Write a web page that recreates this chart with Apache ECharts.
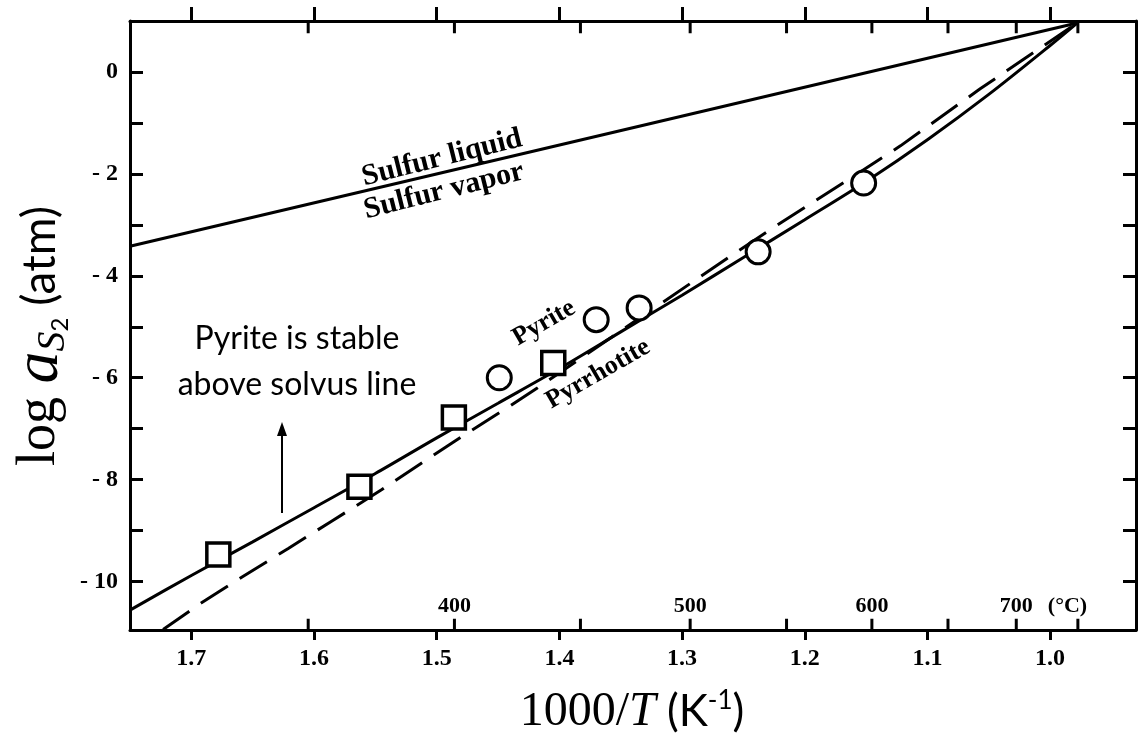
<!DOCTYPE html>
<html><head><meta charset="utf-8">
<script src="https://cdn.jsdelivr.net/npm/echarts@6/dist/echarts.min.js"></script>
<style>html,body{margin:0;padding:0;background:#fff}#c{width:1138px;height:737px}</style>
</head><body><div id="c"></div>
<script>
// ---- data ----
const xTicks = [1.0, 1.1, 1.2, 1.3, 1.4, 1.5, 1.6, 1.7];
const yTicks = [-10, -9, -8, -7, -6, -5, -4, -3, -2, -1, 0];
const yLabels = [-10, -8, -6, -4, -2, 0];
const tempScaleC = [350, 400, 450, 500, 550, 600, 650, 700, 750];
const tempLabelsC = [400, 500, 600, 700];
const sulfurLine = [[1.75, -3.42], [0.978, 0.96]];
const solvusSolid = [[1.75, -10.56], [1.70, -9.88], [1.65, -9.22], [1.60, -8.55], [1.55, -7.88],
  [1.50, -7.18], [1.45, -6.50], [1.40, -5.82], [1.35, -5.10], [1.30, -4.38], [1.25, -3.64],
  [1.20, -2.90], [1.15, -2.15], [1.10, -1.33], [1.05, -0.44], [1.00, 0.52], [0.978, 0.96]];
const solvusDashed = [[1.723, -10.94], [1.692, -10.42], [1.658, -9.90], [1.621, -9.35], [1.586, -8.82],
  [1.545, -8.20], [1.480, -7.16], [1.440, -6.55], [1.418, -6.20], [1.261, -3.62], [1.226, -3.06],
  [1.165, -2.12], [1.122, -1.45], [1.057, -0.33], [0.978, 0.96]];
const squares = [[1.678, -9.47], [1.563, -8.14], [1.486, -6.78], [1.405, -5.71]];
const circles = [[1.449, -6.00], [1.370, -4.86], [1.335, -4.63], [1.238, -3.53], [1.152, -2.18]];

function toInvT(c) { return 1000 / (Number(c) + 273.15); }
const X_MIN = 0.93, X_MAX = 1.75, Y_MIN = -10.95, Y_MAX = 1.0;
const TICK_UP = 0.22, TICK_DOWN = 0.24;   // tick length in log units (≈ 11–12 px)
const SERIF = '"Liberation Serif", "DejaVu Serif", serif';
const SANS = 'Lato, "Open Sans", sans-serif';
const K = '#000';
const CLEAR = 'rgba(0,0,0,0)';
const tempPos = tempScaleC.map(function (c) { return toInvT(c); });
const tempLabelPos = tempLabelsC.map(function (c) { return toInvT(c); });

// short segments (separated by gaps) for the temperature ticks on the bottom and top frame
const tempTickBottom = [];
const tempTickTop = [];
tempPos.forEach(function (v) {
  tempTickBottom.push([v, Y_MIN], [v, Y_MIN + TICK_UP], [v, null]);
  tempTickTop.push([v, Y_MAX], [v, Y_MAX - TICK_DOWN], [v, null]);
});

const chart = echarts.init(document.getElementById('c'), null, {renderer: 'canvas'});
const baseX = {type: 'value', min: X_MIN, max: X_MAX, inverse: true, splitLine: {show: false}};
const baseY = {type: 'value', min: Y_MIN, max: Y_MAX, splitLine: {show: false}};

const graphics = [
  {type: 'text', x: 40, y: 336, rotation: Math.PI / 2, z: 10,
    style: {text: '{a|log }{b|a}{s|S}{t|2}{c| (atm)}', align: 'center', verticalAlign: 'middle',
      rich: {
        a: {fontFamily: SERIF, fontSize: 54, fill: K},
        b: {fontFamily: SERIF, fontStyle: 'italic', fontSize: 64, fill: K},
        s: {fontFamily: SERIF, fontStyle: 'italic', fontSize: 40, fill: K, padding: [26, 0, 0, 0]},
        t: {fontFamily: SANS, fontSize: 24, fill: K, padding: [40, 0, 0, 0]},
        c: {fontFamily: SANS, fontSize: 46, fill: K}
      }}},
  {type: 'text', x: 632, y: 712, z: 10,
    style: {text: '{a|1000/}{b|T}{c| (K}{d|-1}{c|)}', align: 'center', verticalAlign: 'middle',
      rich: {
        a: {fontFamily: SERIF, fontSize: 48, fill: K},
        b: {fontFamily: SERIF, fontStyle: 'italic', fontSize: 48, fill: K},
        c: {fontFamily: SANS, fontSize: 44, fill: K},
        d: {fontFamily: SANS, fontSize: 26, fill: K, padding: [0, 0, 22, 0]}
      }}},
  {type: 'text', x: 442, y: 158, rotation: 14 * Math.PI / 180, z: 10,
    style: {text: 'Sulfur liquid', align: 'center', verticalAlign: 'middle', fontFamily: SERIF, fontWeight: 'bold', fontSize: 30, fill: K}},
  {type: 'text', x: 444, y: 191, rotation: 14 * Math.PI / 180, z: 10,
    style: {text: 'Sulfur vapor', align: 'center', verticalAlign: 'middle', fontFamily: SERIF, fontWeight: 'bold', fontSize: 30, fill: K}},
  {type: 'text', x: 544, y: 323, rotation: 30 * Math.PI / 180, z: 10,
    style: {text: 'Pyrite', align: 'center', verticalAlign: 'middle', fontFamily: SERIF, fontWeight: 'bold', fontSize: 26, fill: K}},
  {type: 'text', x: 598, y: 374, rotation: 30 * Math.PI / 180, z: 10,
    style: {text: 'Pyrrhotite', align: 'center', verticalAlign: 'middle', fontFamily: SERIF, fontWeight: 'bold', fontSize: 26, fill: K}},
  {type: 'text', x: 297, y: 339, z: 10,
    style: {text: 'Pyrite is stable', align: 'center', verticalAlign: 'middle', fontFamily: SANS, fontSize: 32, fill: K}},
  {type: 'text', x: 297, y: 385, z: 10,
    style: {text: 'above solvus line', align: 'center', verticalAlign: 'middle', fontFamily: SANS, fontSize: 32, fill: K}},
  {type: 'line', z: 10, shape: {x1: 282, y1: 513, x2: 282, y2: 432}, style: {stroke: K, lineWidth: 2}},
  {type: 'polygon', z: 10, shape: {points: [[282, 422], [277, 436], [287, 436]]}, style: {fill: K}}
];

function tempFormatter(v) {
  const c = Math.round(1000 / v - 273.15);
  if (tempLabelsC.indexOf(c) < 0) return '';
  return c === tempLabelsC[tempLabelsC.length - 1] ? '{pad|}{n|' + c + '}{u| (°C)}' : '{n|' + c + '}';
}

chart.setOption({
  backgroundColor: '#fff',
  animation: false,
  grid: {left: 130, right: 2, top: 21, bottom: 107, containLabel: false},
  xAxis: [
    Object.assign({}, baseX, {
      position: 'bottom',
      axisLine: {show: true, onZero: false, lineStyle: {color: K, width: 3}},
      axisTick: {show: true, inside: false, length: 10, customValues: xTicks, lineStyle: {color: K, width: 3}},
      axisLabel: {show: true, customValues: xTicks, margin: 17, color: K, fontFamily: SERIF, fontWeight: 'bold', fontSize: 24,
        formatter: function (v) { return v.toFixed(1); }}
    }),
    Object.assign({}, baseX, {
      position: 'bottom',
      axisLine: {show: true, onZero: false, lineStyle: {color: CLEAR, width: 1}},
      axisTick: {show: false},
      axisLabel: {show: true, inside: true, margin: 13, customValues: tempLabelPos, color: K,
        fontFamily: SERIF, fontWeight: 'bold', fontSize: 22, formatter: tempFormatter,
        rich: {
          n: {fontFamily: SERIF, fontWeight: 'bold', fontSize: 22, color: K},
          pad: {width: 64},
          u: {fontFamily: SERIF, fontWeight: 'bold', fontSize: 22, color: K, width: 64}
        }}
    }),
    Object.assign({}, baseX, {
      position: 'top',
      axisLine: {show: true, onZero: false, lineStyle: {color: K, width: 3}},
      axisTick: {show: true, inside: false, length: 14, customValues: xTicks, lineStyle: {color: K, width: 3}},
      axisLabel: {show: false}
    })
  ],
  yAxis: [
    Object.assign({}, baseY, {
      position: 'left',
      axisLine: {show: true, onZero: false, lineStyle: {color: K, width: 3}},
      axisTick: {show: true, inside: true, length: 13, customValues: yTicks, lineStyle: {color: K, width: 3}},
      axisLabel: {show: true, customValues: yLabels, margin: 12, color: K, fontFamily: SERIF, fontWeight: 'bold', fontSize: 24,
        formatter: function (v) { return v === 0 ? '0' : '- ' + Math.abs(v); }}
    }),
    Object.assign({}, baseY, {
      position: 'right',
      axisLine: {show: true, onZero: false, lineStyle: {color: K, width: 3}},
      axisTick: {show: true, inside: true, length: 13, customValues: yTicks, lineStyle: {color: K, width: 3}},
      axisLabel: {show: false}
    })
  ],
  series: [
    {name: 'Sulfur liquid/vapor', type: 'line', data: sulfurLine, symbol: 'none', silent: true,
      lineStyle: {color: K, width: 3}, z: 2},
    {name: 'Solvus (solid)', type: 'line', data: solvusSolid, symbol: 'none', smooth: 0.3, silent: true,
      lineStyle: {color: K, width: 3}, z: 2},
    {name: 'Solvus (dashed)', type: 'line', data: solvusDashed, symbol: 'none', silent: true,
      lineStyle: {color: K, width: 3, type: [32, 14]}, z: 2},
    {name: 'Squares', type: 'scatter', data: squares, symbol: 'rect', symbolSize: 23, silent: true,
      itemStyle: {color: '#fff', borderColor: K, borderWidth: 3.5, opacity: 1}, z: 5},
    {name: 'Circles', type: 'scatter', data: circles, symbol: 'circle', symbolSize: 24, silent: true,
      itemStyle: {color: '#fff', borderColor: K, borderWidth: 3, opacity: 1}, z: 5},
    {name: 'Temperature ticks (bottom)', type: 'line', data: tempTickBottom, symbol: 'none', silent: true,
      connectNulls: false, lineStyle: {color: K, width: 3, cap: 'butt'}, z: 6},
    {name: 'Temperature ticks (top)', type: 'line', data: tempTickTop, symbol: 'none', silent: true,
      connectNulls: false, lineStyle: {color: K, width: 3, cap: 'butt'}, z: 6}
  ],
  graphic: graphics
});
</script></body></html>
